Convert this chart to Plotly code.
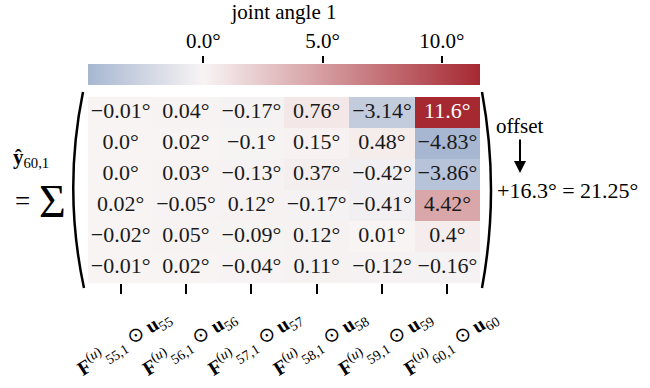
import plotly.graph_objects as go

# ---- data (contributions per time step, rows top->bottom) ----
steps = [55, 56, 57, 58, 59, 60]
c55 = [-0.01, 0.0, 0.0, 0.02, -0.02, -0.01]
c56 = [0.04, 0.02, 0.03, -0.05, 0.05, 0.02]
c57 = [-0.17, -0.1, -0.13, 0.12, -0.09, -0.04]
c58 = [0.76, 0.15, 0.37, -0.17, 0.12, 0.11]
c59 = [-3.14, 0.48, -0.42, -0.41, 0.01, -0.12]
c60 = [11.6, -4.83, -3.86, 4.42, 0.4, -0.16]
offset = 16.3
prediction = 21.25
cbar_ticks = [0.0, 5.0, 10.0]
cbar_title = "joint angle 1"

columns = [c55, c56, c57, c58, c59, c60]
nrows = len(c55)
z = [[columns[c][r] for c in range(len(columns))] for r in range(nrows)]
zmin = min(min(col) for col in columns)
zmax = max(max(col) for col in columns)

W, H = 650, 388
def px(x):
    return x / W
def py(y):
    return 1 - y / H

FONT = "Liberation Serif"
white_pt = -zmin / (zmax - zmin)
colorscale = [[0.0, "rgb(167,183,209)"], [white_pt, "rgb(248,244,244)"], [1.0, "rgb(166,41,50)"]]

def deg(v):
    return (str(v) + "°").replace("-", "−")

xlabels = ["<b>F</b><sup>(<i>u</i>)</sup><sub>%d,1</sub> ⊙ <b>u</b><sub>%d</sub>" % (s, s) for s in steps]

fig = go.Figure()
fig.add_trace(go.Heatmap(
    z=z, x=list(range(len(steps))), y=list(range(nrows)),
    colorscale=colorscale, zmin=zmin, zmax=zmax, hoverinfo="skip",
    colorbar=dict(orientation="h", thickness=21, len=392, lenmode="pixels",
                  x=px(88), xanchor="left", y=py(64), yanchor="top",
                  xpad=0, ypad=0, outlinewidth=0, showticklabels=False, ticks=""),
))

tx, ty, tt, tc = [], [], [], []
for r in range(nrows):
    for c in range(len(steps)):
        v = z[r][c]
        tx.append(c); ty.append(r); tt.append(deg(v))
        tc.append("white" if v > 0.7 * zmax else "#1a1a1a")
fig.add_trace(go.Scatter(x=tx, y=ty, text=tt, mode="text", hoverinfo="skip",
                         textfont=dict(family=FONT, size=22, color=tc), showlegend=False))

# dummy trace for the colorbar tick axis
fig.add_trace(go.Scatter(x=[None], y=[None], xaxis="x2", yaxis="y2", mode="markers",
                         showlegend=False, hoverinfo="skip"))

fig.update_layout(
    width=W, height=H,
    margin=dict(l=0, r=0, t=0, b=0, autoexpand=False),
    paper_bgcolor="white", plot_bgcolor="white",
    font=dict(family=FONT, size=21, color="black"),
    showlegend=False,
    xaxis=dict(domain=[px(88), px(480)], range=[-0.5, len(steps) - 0.5],
               tickvals=list(range(len(steps))), ticktext=xlabels, tickangle=-32,
               ticks="outside", ticklen=10, tickwidth=2, tickcolor="black",
               showgrid=False, zeroline=False, showline=False,
               ticklabelshift=46, ticklabelstandoff=4,
               tickfont=dict(family=FONT, size=20)),
    yaxis=dict(domain=[py(283), py(97)], range=[nrows - 0.5, -0.5],
               showticklabels=False, ticks="", showgrid=False, zeroline=False),
    xaxis2=dict(domain=[px(88), px(480)], range=[zmin, zmax], anchor="y2", side="top",
                tickvals=cbar_ticks, ticktext=[deg(t) for t in cbar_ticks],
                ticks="outside", ticklen=7, tickwidth=2, tickcolor="black",
                showgrid=False, zeroline=False, showline=False,
                tickfont=dict(family=FONT, size=21),
                title=dict(text=cbar_title, standoff=8, font=dict(family=FONT, size=21))),
    yaxis2=dict(domain=[py(70), py(64)], anchor="x2", visible=False, range=[0, 1]),
)

# big parentheses
fig.add_shape(type="path", xref="paper", yref="paper",
              path="M %f,%f Q %f,%f %f,%f" % (px(83), py(92), px(63), py(190), px(84), py(288)),
              line=dict(color="black", width=2.5))
fig.add_shape(type="path", xref="paper", yref="paper",
              path="M %f,%f Q %f,%f %f,%f" % (px(482), py(92), px(500), py(190), px(482), py(288)),
              line=dict(color="black", width=2.5))

ann = dict(xref="paper", yref="paper", showarrow=False, xanchor="center", yanchor="middle")
fig.add_annotation(text="<b>ŷ</b><sub>60,1</sub>", x=px(31), y=py(158), font=dict(size=21), **ann)
fig.add_annotation(text="=", x=px(22), y=py(201), font=dict(size=27), **ann)
fig.add_annotation(text="Σ", x=px(53), y=py(201), font=dict(size=46), **ann)
fig.add_annotation(text="offset", x=px(520), y=py(173), xref="paper", yref="paper",
                   showarrow=True, ax=0, ay=-47, arrowhead=2, arrowsize=1.2,
                   arrowwidth=2, arrowcolor="black", font=dict(size=21))
fig.add_annotation(text="+" + deg(offset) + " = " + deg(prediction), x=px(567), y=py(190),
                   font=dict(size=22), **ann)

fig.write_html("out.html", post_script="document.body.style.margin='0';",
               config={"displayModeBar": False})
